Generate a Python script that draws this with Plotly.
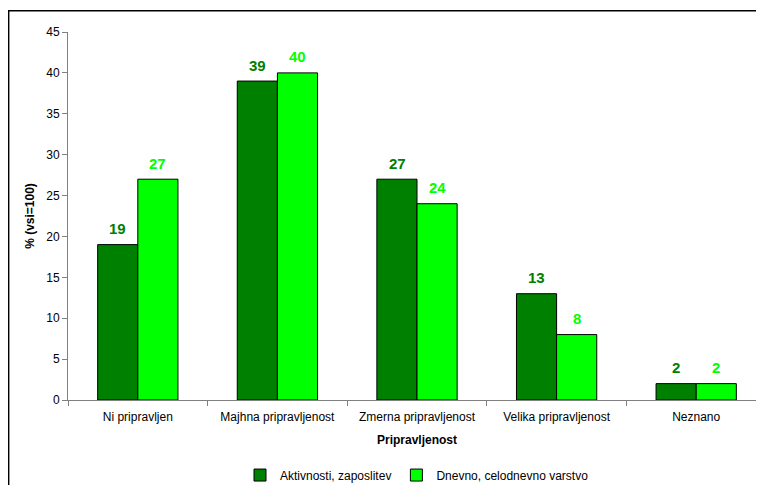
import plotly.graph_objects as go

# Data
categories = ["Ni pripravljen", "Majhna pripravljenost", "Zmerna pripravljenost",
              "Velika pripravljenost", "Neznano"]
aktivnosti = [19, 39, 27, 13, 2]
dnevno = [27, 40, 24, 8, 2]

series = [
    ("Aktivnosti, zaposlitev", aktivnosti, "#008000", -20),
    ("Dnevno, celodnevno varstvo", dnevno, "#00FF00", 20),
]

FONT = "Liberation Sans, Arial, sans-serif"

fig = go.Figure()
for name, vals, colour, _ in series:
    fig.add_trace(go.Bar(
        x=categories, y=vals, name=name,
        marker=dict(color=colour, line=dict(color="black", width=1)),
    ))

# value labels above each bar
annotations = []
for name, vals, colour, shift in series:
    for cat, v in zip(categories, vals):
        annotations.append(dict(
            x=cat, y=v, xref="x", yref="y", text=f"<b>{v}</b>",
            showarrow=False, xshift=shift, yshift=16,
            font=dict(family=FONT, size=15, color=colour),
        ))

fig.update_layout(
    width=764, height=485,
    paper_bgcolor="white", plot_bgcolor="white",
    font=dict(family=FONT, size=12, color="black"),
    margin=dict(l=60, r=6, t=24, b=93, autoexpand=False),
    barmode="group", bargap=0.425, bargroupgap=0,
    showlegend=True,
    legend=dict(orientation="h", x=0.5, xanchor="center",
                yref="container", y=0.037, yanchor="middle",
                font=dict(size=12), itemwidth=30, tracegroupgap=0),
    annotations=annotations,
    # outer chart frame
    shapes=[dict(type="rect", xref="paper", yref="paper",
                 x0=-0.085, x1=1.05, y0=-0.3, y1=1.058,
                 line=dict(color="black", width=1.5), layer="below")],
)
fig.update_xaxes(
    automargin=False,
    showline=True, linecolor="#808080", linewidth=1,
    ticks="outside", tickson="boundaries", ticklen=5, tickcolor="#808080",
    ticklabelstandoff=6, showgrid=False,
    title=dict(text="<b>Pripravljenost</b>", font=dict(size=12), standoff=12),
)
fig.update_yaxes(
    automargin=False,
    range=[0, 45], dtick=5, showline=True, linecolor="#808080", linewidth=1,
    ticks="outside", ticklen=5, tickcolor="#808080", showgrid=False,
    title=dict(text="<b>% (vsi=100)</b>", font=dict(size=12), standoff=9),
)

fig.write_html("out.html")
